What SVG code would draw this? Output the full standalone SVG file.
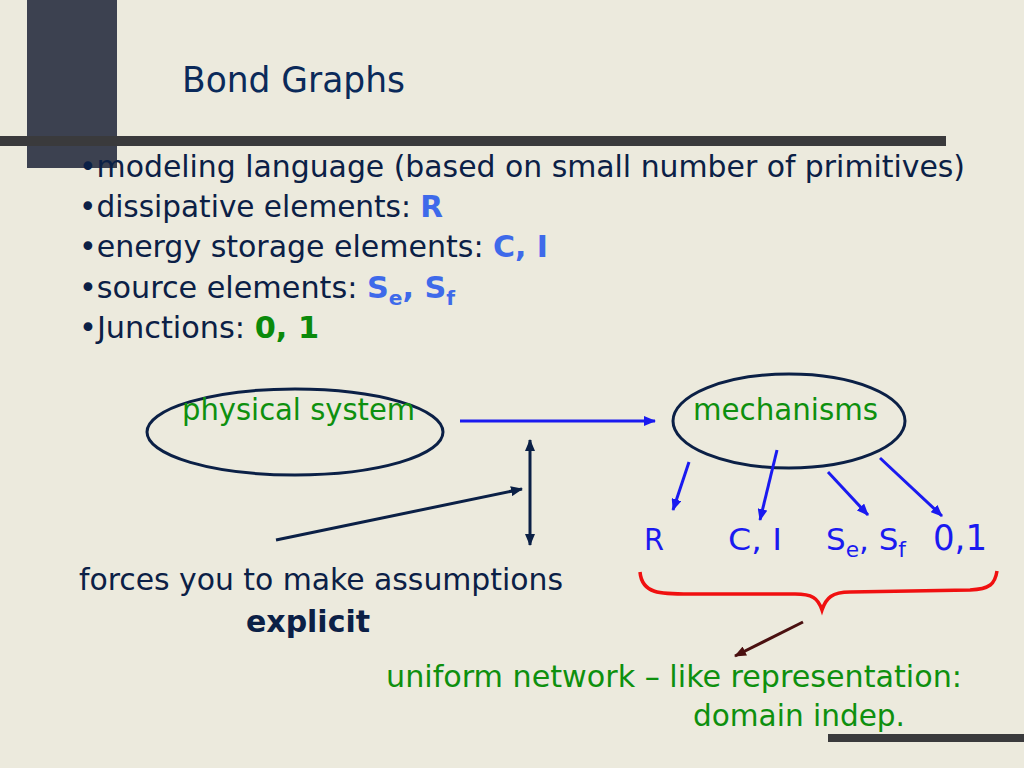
<svg xmlns="http://www.w3.org/2000/svg" width="1024" height="768" viewBox="0 0 1024 768">
<defs>
<style>
.t{font-family:"DejaVu Sans Condensed","DejaVu Sans","Liberation Sans",sans-serif;}
.body{font-size:30px;fill:#0B2046;}
.hl{fill:#3E6AEA;font-weight:bold;}
.jn{fill:#0B8A0B;font-weight:bold;}
.grn{fill:#0E900E;}
.blu{fill:#1A1AF0;}
.ell{fill:none;stroke:#0B2046;stroke-width:3;}
</style>
<marker id="aBlue" markerWidth="12" markerHeight="10" refX="11" refY="5" orient="auto" markerUnits="userSpaceOnUse"><path d="M0,0 L12,5 L0,10 Z" fill="#1A1AF0"/></marker>
<marker id="aNavy" markerWidth="12" markerHeight="10" refX="11" refY="5" orient="auto" markerUnits="userSpaceOnUse"><path d="M0,0 L12,5 L0,10 Z" fill="#0B2046"/></marker>
<marker id="aNavyS" markerWidth="12" markerHeight="10" refX="1" refY="5" orient="auto" markerUnits="userSpaceOnUse"><path d="M12,0 L0,5 L12,10 Z" fill="#0B2046"/></marker>
<marker id="aRed" markerWidth="12" markerHeight="10" refX="11" refY="5" orient="auto" markerUnits="userSpaceOnUse"><path d="M0,0 L12,5 L0,10 Z" fill="#4A1010"/></marker>
</defs>
<rect x="0" y="0" width="1024" height="768" fill="#ECEADD"/>
<g id="decor">
<rect x="27" y="0" width="90" height="168" fill="#3C4150"/>
<rect x="0" y="136" width="946" height="10" fill="#3A3A3C"/>
<rect x="828" y="734" width="196" height="8" fill="#3A3A3C"/>
</g>
<g id="title"><text class="t" x="182" y="92" font-size="36" fill="#0B2A5A" textLength="223" lengthAdjust="spacingAndGlyphs">Bond Graphs</text></g>
<g id="bullets" class="t body">
<text x="79" y="177" textLength="886" lengthAdjust="spacingAndGlyphs">•modeling language (based on small number of primitives)</text>
<text x="79" y="217" textLength="364" lengthAdjust="spacingAndGlyphs">•dissipative elements: <tspan class="hl">R</tspan></text>
<text x="79" y="257" textLength="469" lengthAdjust="spacingAndGlyphs">•energy storage elements: <tspan class="hl">C, I</tspan></text>
<text x="79" y="298" textLength="376" lengthAdjust="spacingAndGlyphs">•source elements: <tspan class="hl">S</tspan><tspan class="hl" font-size="20" dy="7">e</tspan><tspan class="hl" dy="-7">, S</tspan><tspan class="hl" font-size="20" dy="7">f</tspan></text>
<text x="79" y="338" textLength="240" lengthAdjust="spacingAndGlyphs">•Junctions: <tspan class="jn">0, 1</tspan></text>
</g>
<g id="node-physical">
<ellipse class="ell" cx="295" cy="432" rx="148" ry="43"/>
<text class="t grn" x="182" y="420" font-size="30" textLength="233" lengthAdjust="spacingAndGlyphs">physical system</text>
</g>
<g id="node-mechanisms">
<ellipse class="ell" cx="789" cy="421" rx="116" ry="47"/>
<text class="t grn" x="693" y="420" font-size="30" textLength="185" lengthAdjust="spacingAndGlyphs">mechanisms</text>
</g>
<g id="node-R"><text class="t blu" x="644" y="550" font-size="30" textLength="20" lengthAdjust="spacingAndGlyphs">R</text></g>
<g id="node-CI"><text class="t blu" x="728" y="550" font-size="30" textLength="54" lengthAdjust="spacingAndGlyphs">C, I</text></g>
<g id="node-SeSf"><text class="t blu" x="826" y="550" font-size="30" textLength="80" lengthAdjust="spacingAndGlyphs">S<tspan font-size="21" dy="7">e</tspan><tspan dy="-7">, S</tspan><tspan font-size="21" dy="7">f</tspan></text></g>
<g id="node-01"><text class="t blu" x="933" y="550" font-size="36" textLength="54" lengthAdjust="spacingAndGlyphs">0,1</text></g>
<g id="node-forces" class="t body">
<text x="79" y="590" textLength="484" lengthAdjust="spacingAndGlyphs">forces you to make assumptions</text>
<text x="246" y="632" font-weight="bold" textLength="124" lengthAdjust="spacingAndGlyphs">explicit</text>
</g>
<g id="node-uniform" class="t grn" font-size="30">
<text x="386" y="687" textLength="576" lengthAdjust="spacingAndGlyphs">uniform network – like representation:</text>
<text x="693" y="726" textLength="212" lengthAdjust="spacingAndGlyphs">domain indep.</text>
</g>
<g id="connectors" fill="none">
<line x1="460" y1="421" x2="655" y2="421" stroke="#1A1AF0" stroke-width="3" marker-end="url(#aBlue)"/>
<line x1="530" y1="440" x2="530" y2="545" stroke="#0B2046" stroke-width="3" marker-start="url(#aNavyS)" marker-end="url(#aNavy)"/>
<line x1="276" y1="540" x2="522" y2="489" stroke="#0B2046" stroke-width="3" marker-end="url(#aNavy)"/>
<line x1="689" y1="462" x2="673" y2="510" stroke="#1A1AF0" stroke-width="3" marker-end="url(#aBlue)"/>
<line x1="777" y1="450" x2="760" y2="520" stroke="#1A1AF0" stroke-width="3" marker-end="url(#aBlue)"/>
<line x1="828" y1="472" x2="868" y2="515" stroke="#1A1AF0" stroke-width="3" marker-end="url(#aBlue)"/>
<line x1="880" y1="458" x2="942" y2="516" stroke="#1A1AF0" stroke-width="3" marker-end="url(#aBlue)"/>
<path d="M640,572 C642,594 660,594 690,594 L795,594 C812,594 818,598 822,610 C826,598 832,592 850,592 L970,590 C990,589 995,584 997,571" stroke="#F01010" stroke-width="3.5"/>
<line x1="803" y1="622" x2="735" y2="656" stroke="#4A1010" stroke-width="3" marker-end="url(#aRed)"/>
</g>
</svg>
